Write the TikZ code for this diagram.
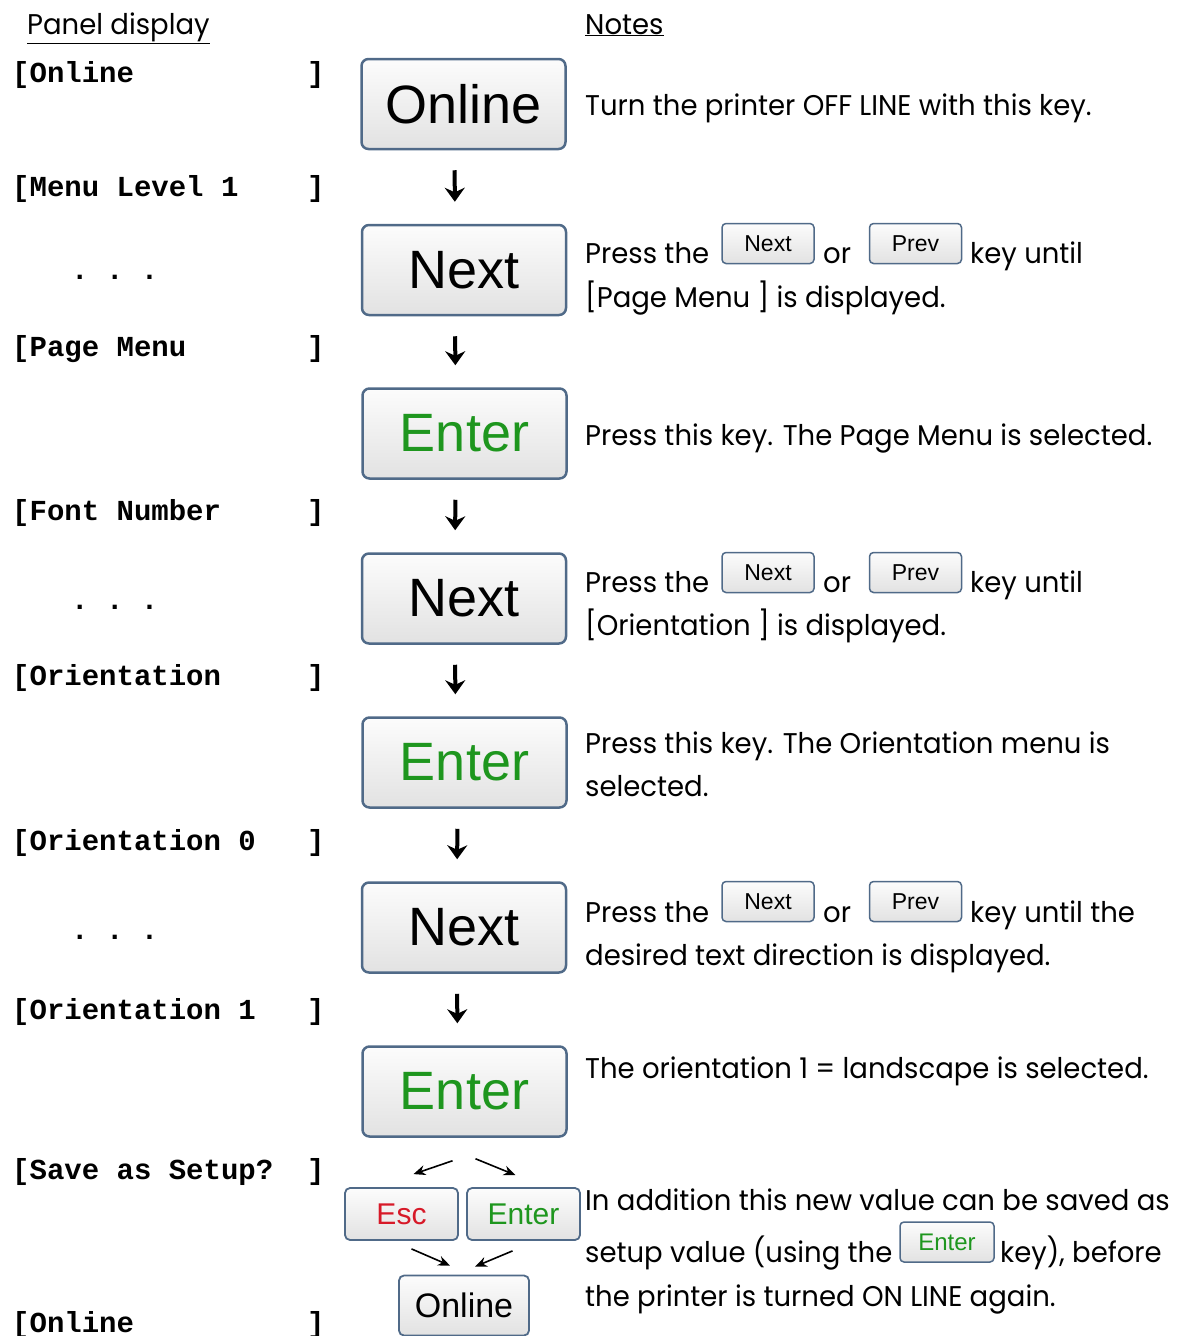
\documentclass[tikz,border=0pt]{standalone}
\usepackage{fontspec}
\setmainfont[FakeStretch=0.965]{Poppins}
\newfontfamily\keyfont{Liberation Sans}
\newfontfamily\panelfont{Liberation Mono}
\usetikzlibrary{arrows.meta,positioning}

\definecolor{keyedge}{RGB}{80,106,136}
\definecolor{keytop}{RGB}{252,252,252}
\definecolor{keybot}{RGB}{226,226,226}
\definecolor{entergreen}{RGB}{30,150,30}
\definecolor{escred}{RGB}{215,25,40}

\newcommand\paneltext[1]{\makebox[295pt][l]{[#1}]}
\newcommand\notesize{\fontsize{28.5}{44}\selectfont}

\begin{document}
\begin{tikzpicture}[
  x=1pt, y=-1pt,
  every node/.style={inner sep=0pt},
  note/.style={anchor=base west, font=\notesize},
  panel/.style={anchor=base west, font=\panelfont\bfseries\fontsize{29}{29}\selectfont},
  keybase/.style={draw=keyedge, top color=keytop, bottom color=keybot},
  bigkey/.style={keybase, line width=2.5pt, rounded corners=7pt, minimum width=204pt, minimum height=90pt, font=\keyfont\fontsize{54}{54}\selectfont},
  smallkey/.style={keybase, line width=1.5pt, rounded corners=4pt, minimum width=92pt, minimum height=40pt, font=\keyfont\fontsize{23}{23}\selectfont},
  lowkey/.style={keybase, line width=1.8pt, rounded corners=5pt, minimum width=113pt, minimum height=52pt, font=\keyfont\fontsize{30}{30}\selectfont},
  flow/.style={-{Stealth[length=14pt,width=20pt]}, line width=4pt, shorten <=20pt, shorten >=22pt},
  split/.style={-{Stealth[length=12pt,width=10pt]}, line width=1.6pt}
]
\useasboundingbox (0,0) rectangle (1190,1336);

% headings
\node[note] (hpanel) at (27,34) {\underline{Panel display}};
\node[note] (hnotes) at (585,34) {\underline{Notes}};

% panel display column
\node[panel] (p1) at (12,82) {\paneltext{Online}};
\node[panel] (p2) at (12,196) {\paneltext{Menu Level 1}};
\node[panel] (d1) at (71,279) {.\ .\ .};
\node[panel] (p3) at (12,356) {\paneltext{Page Menu}};
\node[panel] (p4) at (12,520) {\paneltext{Font Number}};
\node[panel] (d2) at (71,609) {.\ .\ .};
\node[panel] (p5) at (12,685) {\paneltext{Orientation}};
\node[panel] (p6) at (12,850) {\paneltext{Orientation 0}};
\node[panel] (d3) at (71,939) {.\ .\ .};
\node[panel] (p7) at (12,1019) {\paneltext{Orientation 1}};
\node[panel] (p8) at (12,1179) {\paneltext{Save as Setup?}};
\node[panel] (p9) at (12,1332) {\paneltext{Online}};

% keys
\node[bigkey] (online) at (463.5,104) {Online};
\node[bigkey] (next1) at (464,270) {Next};
\node[bigkey, text=entergreen] (enter1) at (464.5,433.5) {Enter};
\node[bigkey] (next2) at (464,598.5) {Next};
\node[bigkey, text=entergreen] (enter2) at (464.5,762.5) {Enter};
\node[bigkey] (next3) at (464,927.5) {Next};
\node[bigkey, text=entergreen] (enter3) at (464.5,1091.5) {Enter};
\node[lowkey, text=escred] (esc) at (401.5,1214) {Esc};
\node[lowkey, text=entergreen] (entlow) at (523.5,1214) {Enter};
\node[lowkey, minimum width=130pt, minimum height=60pt, font=\keyfont\fontsize{34}{34}\selectfont] (onlow) at (464,1305.5) {Online};

\draw[flow] ([xshift=-9pt]online.south) -- ([xshift=-9pt]next1.north);
\draw[flow] ([xshift=-9pt]next1.south) -- ([xshift=-9pt]enter1.north);
\draw[flow] ([xshift=-9pt]enter1.south) -- ([xshift=-9pt]next2.north);
\draw[flow] ([xshift=-9pt]next2.south) -- ([xshift=-9pt]enter2.north);
\draw[flow] ([xshift=-7pt]enter2.south) -- ([xshift=-7pt]next3.north);
\draw[flow] ([xshift=-7pt]next3.south) -- ([xshift=-7pt]enter3.north);
\draw[split] ([shift={(-12pt,-23pt)}]enter3.south) -- ([shift={(12pt,13pt)}]esc.north);
\draw[split] ([shift={(11pt,-21pt)}]enter3.south) -- ([shift={(-8pt,12pt)}]entlow.north);
\draw[split] ([shift={(10pt,-8pt)}]esc.south) -- ([shift={(-14pt,9pt)}]onlow.north);
\draw[split] ([shift={(-11pt,-10pt)}]entlow.south) -- ([shift={(11pt,8pt)}]onlow.north);

% notes
\node[note] (n1) at (585,115) {Turn the printer OFF LINE with this key.};

\node[note] (n2a) at (585,263) {Press the};
\node[smallkey] (k2n) at (768,243.5) {Next};
\node[note] (n2b) at (823,263) {or};
\node[smallkey] (k2p) at (915.5,243.5) {Prev};
\node[note] (n2c) at (970,263) {key until};
\node[note] (n2d) at (585,307) {[Page Menu ] is displayed.};

\node[note] (n3) at (585,445) {Press this key. The Page Menu is selected.};

\node[note] (n4a) at (585,592) {Press the};
\node[smallkey] (k4n) at (768,572.5) {Next};
\node[note] (n4b) at (823,592) {or};
\node[smallkey] (k4p) at (915.5,572.5) {Prev};
\node[note] (n4c) at (970,592) {key until};
\node[note] (n4d) at (585,635) {[Orientation ] is displayed.};

\node[note] (n5a) at (585,753) {Press this key. The Orientation menu is};
\node[note] (n5b) at (585,796) {selected.};

\node[note] (n6a) at (585,922) {Press the};
\node[smallkey] (k6n) at (768,901.5) {Next};
\node[note] (n6b) at (823,922) {or};
\node[smallkey] (k6p) at (915.5,901.5) {Prev};
\node[note] (n6c) at (970,922) {key until the};
\node[note] (n6d) at (585,965) {desired text direction is displayed.};

\node[note] (n7) at (585,1078) {The orientation 1 = landscape is selected.};

\node[note] (n8a) at (585,1210) {In addition this new value can be saved as};
\node[note] (n8b) at (585,1262) {setup value (using the};
\node[smallkey, text=entergreen, minimum width=94pt, font=\keyfont\fontsize{24}{24}\selectfont] (k8e) at (947,1242) {Enter};
\node[note] (n8c) at (1000,1262) {key), before};
\node[note] (n8d) at (585,1306) {the printer is turned ON LINE again.};
\end{tikzpicture}
\end{document}
